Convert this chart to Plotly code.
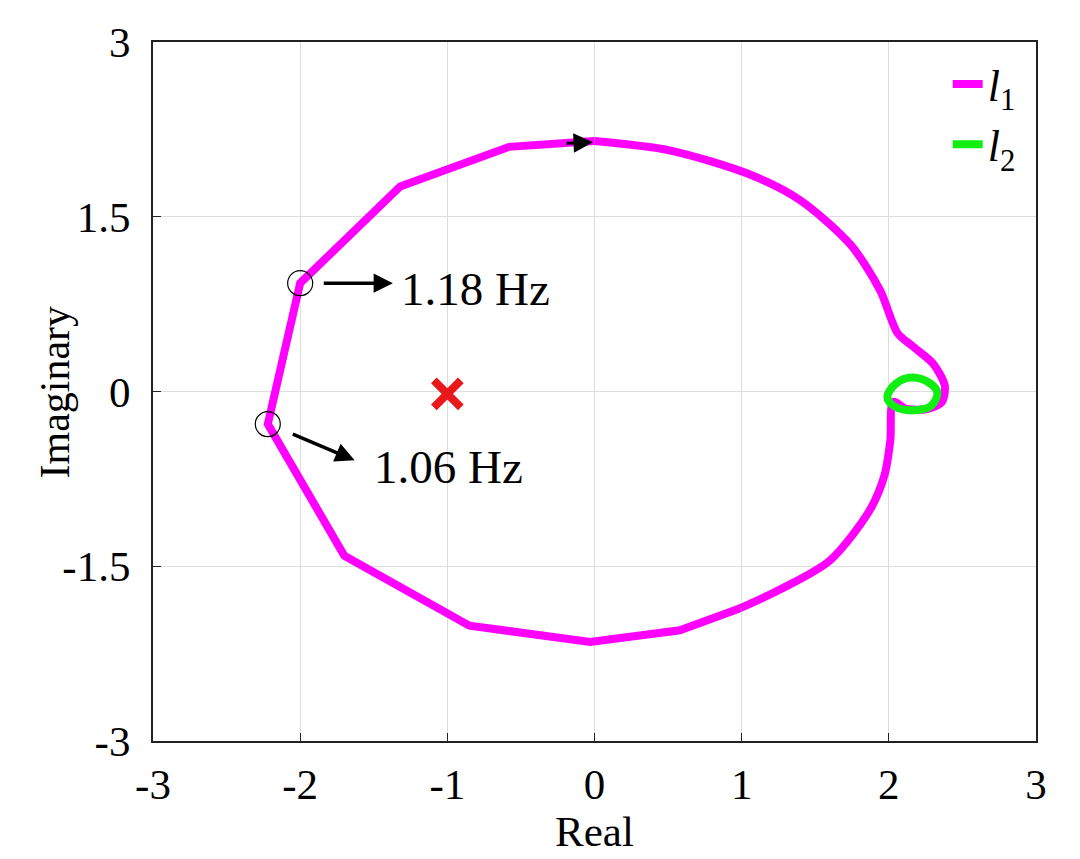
import plotly.graph_objects as go

# l1 locus (real, imag), traversed clockwise starting at the top
# smooth right-hand part
l1s_real = [0.00, 0.51, 1.06, 1.40, 1.74, 1.94, 2.06, 2.16, 2.30, 2.38, 2.36, 2.26, 2.12,
            2.03, 2.01, 1.97, 1.87, 1.60, 1.26, 0.99]
l1s_imag = [2.15, 2.07, 1.86, 1.64, 1.26, 0.87, 0.50, 0.39, 0.24, 0.05, -0.09, -0.15, -0.15,
            -0.09, -0.42, -0.72, -1.02, -1.45, -1.70, -1.86]
# polygonal left-hand part
l1p_real = [0.99, 0.58, -0.03, -0.85, -1.70, -2.22, -2.00, -1.32, -0.58, 0.00]
l1p_imag = [-1.86, -2.05, -2.15, -2.01, -1.41, -0.28, 0.93, 1.76, 2.10, 2.15]

# l2 small loop
l2_real = [1.99, 2.05, 2.16, 2.28, 2.33, 2.29, 2.18, 2.04, 1.99]
l2_imag = [-0.05, 0.07, 0.12, 0.07, -0.01, -0.12, -0.16, -0.13, -0.05]

# critical point
crit_real = [-1.0]
crit_imag = [-0.02]

# marked frequencies
freq_labels = ["1.18 Hz", "1.06 Hz"]
freq_real = [-2.00, -2.22]
freq_imag = [0.93, -0.28]
arrow_tail_real = [-1.85, -2.06]
arrow_tail_imag = [0.93, -0.36]
arrow_head_real = [-1.37, -1.63]
arrow_head_imag = [0.93, -0.59]
label_real = [-1.33, -1.51]
label_imag = [0.88, -0.65]

x_ticks = [-3, -2, -1, 0, 1, 2, 3]
x_ticktext = ["-3", "-2", "-1", "0", "1", "2", "3"]
y_ticks = [-3, -1.5, 0, 1.5, 3]
y_ticktext = ["-3", "-1.5", "0", "1.5", "3"]

FONT = "Liberation Serif"
MAG = "#ff00ff"
GRN = "#11ee11"

fig = go.Figure()
fig.add_trace(go.Scatter(x=l1s_real, y=l1s_imag, mode="lines", legendgroup="l1",
                         line=dict(color=MAG, width=8, shape="spline", smoothing=0.8),
                         name="<i>l</i><sub>1</sub>"))
fig.add_trace(go.Scatter(x=l1p_real, y=l1p_imag, mode="lines", legendgroup="l1",
                         showlegend=False, line=dict(color=MAG, width=8)))
fig.add_trace(go.Scatter(x=l2_real, y=l2_imag, mode="lines",
                         line=dict(color=GRN, width=8, shape="spline"),
                         name="<i>l</i><sub>2</sub>"))
fig.add_trace(go.Scatter(x=crit_real, y=crit_imag, mode="markers", showlegend=False,
                         marker=dict(symbol="x-thin", size=27, color="#e8191a",
                                     line=dict(color="#e8191a", width=8))))
fig.add_trace(go.Scatter(x=freq_real, y=freq_imag, mode="markers", showlegend=False,
                         marker=dict(symbol="circle-open", size=25, color="black",
                                     line=dict(color="black", width=1.2))))

for i in range(len(freq_labels)):
    fig.add_annotation(x=arrow_head_real[i], y=arrow_head_imag[i],
                       ax=arrow_tail_real[i], ay=arrow_tail_imag[i],
                       xref="x", yref="y", axref="x", ayref="y", text="",
                       showarrow=True, arrowhead=2, arrowsize=1.1, arrowwidth=3.5,
                       arrowcolor="black")
    fig.add_annotation(x=label_real[i], y=label_imag[i], xref="x", yref="y",
                       text=freq_labels[i], showarrow=False, xanchor="left",
                       yanchor="middle", font=dict(family=FONT, size=47, color="black"))

# direction arrow at top of l1
fig.add_annotation(x=l1s_real[0] - 0.01, y=l1s_imag[0] - 0.01,
                   ax=l1s_real[0] - 0.2, ay=l1s_imag[0] - 0.02,
                   xref="x", yref="y", axref="x", ayref="y", text="",
                   showarrow=True, arrowhead=2, arrowsize=1.3, arrowwidth=3,
                   arrowcolor="black")

# y-axis title
fig.add_annotation(x=-0.111, y=0.5, xref="paper", yref="paper", text="Imaginary",
                   textangle=-90, showarrow=False, xanchor="center", yanchor="middle",
                   font=dict(family=FONT, size=42, color="black"))

axis_common = dict(showgrid=True, gridcolor="#dddddd", gridwidth=1,
                   showline=True, linecolor="#222222", linewidth=2, mirror=True,
                   ticks="inside", ticklen=8, tickcolor="#222222", zeroline=False,
                   tickfont=dict(family=FONT, size=43, color="black"))

fig.update_xaxes(range=[-3, 3], tickvals=x_ticks, ticktext=x_ticktext, **axis_common,
                 ticklabelstandoff=4,
                 title=dict(text="Real", font=dict(family=FONT, size=43, color="black"),
                            standoff=0))
fig.update_yaxes(range=[-3, 3], tickvals=y_ticks, ticktext=y_ticktext, **axis_common,
                 ticklabelstandoff=12)

fig.update_layout(width=1080, height=859, plot_bgcolor="white", paper_bgcolor="white",
                  margin=dict(l=153, r=44, t=42, b=118, autoexpand=False),
                  legend=dict(x=0.9, y=0.99, xanchor="left", yanchor="top",
                              bgcolor="rgba(0,0,0,0)", font=dict(family=FONT, size=44,
                                                                  color="black"),
                              tracegroupgap=0, itemwidth=30))

fig.write_html("out.html")
